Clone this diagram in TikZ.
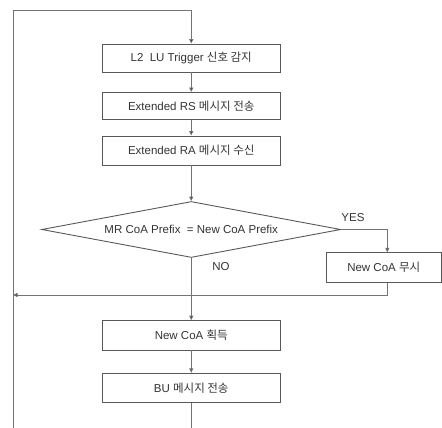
\documentclass[tikz,border=0pt]{standalone}
\usepackage{fontspec}
\setmainfont{Liberation Sans}
\newfontfamily\kr{Noto Sans CJK KR}
\usetikzlibrary{shapes.geometric,arrows.meta}
\begin{document}
\begin{tikzpicture}[x=1pt,y=-1pt,
  every node/.style={font=\fontsize{11.5}{13}\selectfont, text=black!80},
  procbox/.style={draw=black!65, line width=0.9pt, minimum width=177.5pt, inner sep=0pt},
  flow/.style={draw=black!55, line width=0.9pt},
  arr/.style={flow, -{Triangle[length=4.5pt,width=4pt,fill=black!90]}},
  lbl/.style={inner sep=0pt}]
\useasboundingbox (0,0) rectangle (442,428);
\node[procbox, minimum height=28pt] (b1) at (191.25,58) {L2\ \ LU Trigger {\kr 신호 감지}};
\node[procbox, minimum height=27pt] (b2) at (191.25,106) {Extended RS {\kr 메시지 전송}};
\node[procbox, minimum height=29pt] (b3) at (191.25,150.5) {Extended RA {\kr 메시지 수신}};
\node[diamond, draw=black!65, line width=0.9pt, inner sep=0pt, minimum width=299pt, minimum height=56pt, aspect=5.34] (d) at (191.25,229.5) {MR CoA Prefix\ \ = New CoA Prefix};
\node[procbox, minimum width=115.5pt, minimum height=29.5pt] (ig) at (383.75,267.5) {New CoA {\kr 무시}};
\node[procbox, minimum height=29.3pt] (b4) at (191.25,335.3) {New CoA {\kr 획득}};
\node[procbox, minimum height=29pt] (b5) at (191.25,387.8) {BU {\kr 메시지 전송}};
\node[lbl] (yes) at (353,217.5) {YES};
\node[lbl] (no) at (221,267) {NO};
\coordinate (ltop) at (13,10);
\coordinate (lbot) at (13,428);
\coordinate (ctop) at (191.25,10);
\coordinate (cbot) at (191.25,428);
\coordinate (yc) at (387.3,229.5);
\coordinate (ret) at (387.3,295);
\coordinate (retl) at (13,295);
\draw[flow] (lbot) -- (ltop);
\draw[arr] (ltop) -- (ctop) -- (b1.north);
\draw[arr] (b1) -- (b2);
\draw[arr] (b2) -- (b3);
\draw[arr] (b3) -- (d.north);
\draw[arr] (d.east) -- (yc) -- (yc |- ig.north);
\draw[arr] (yc |- ig.south) -- (ret) -- (retl);
\draw[arr] (d.south) -- (b4.north);
\draw[arr] (b4) -- (b5);
\draw[flow] (b5.south) -- (cbot);
\end{tikzpicture}
\end{document}
